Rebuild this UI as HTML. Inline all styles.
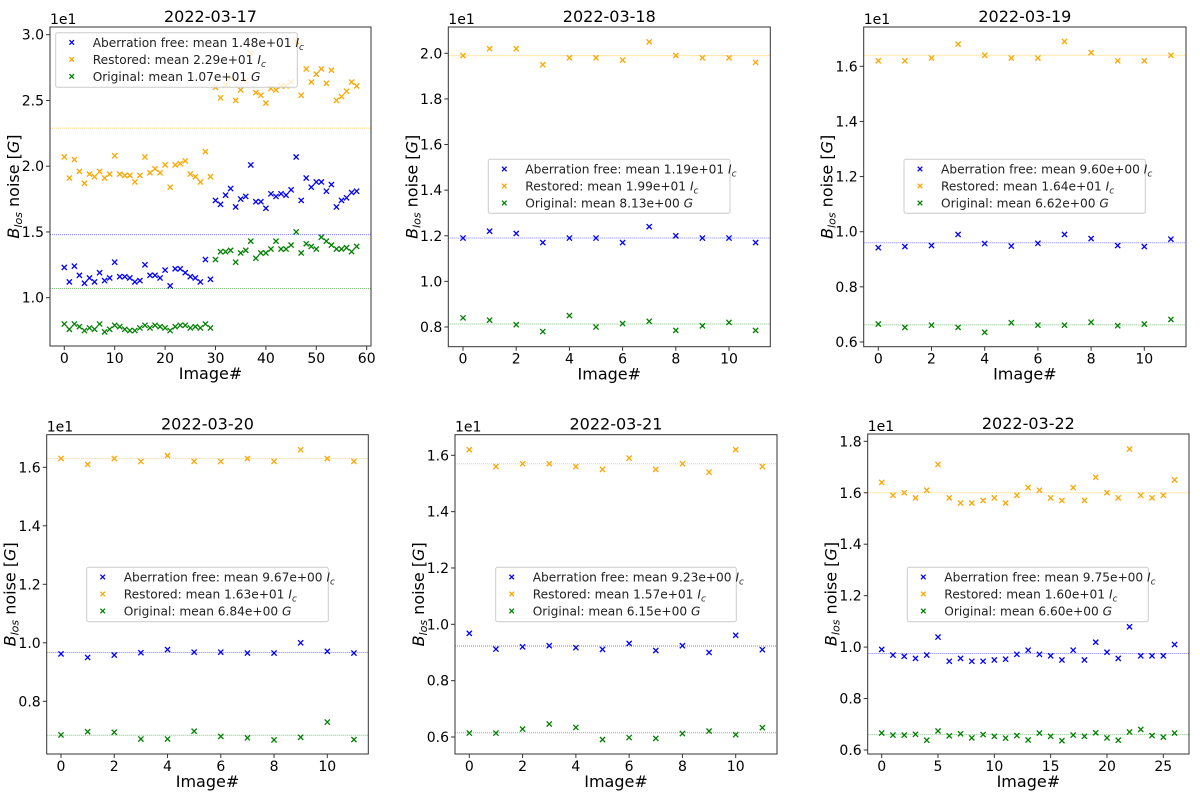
<!DOCTYPE html>
<html><head><meta charset="utf-8">
<style>
html,body{margin:0;padding:0;background:#fff;}
svg{display:block;font-family:"DejaVu Sans","Liberation Sans",sans-serif;}
</style></head>
<body>
<svg id="fig" width="1200" height="797" viewBox="0 0 1200 797" xmlns="http://www.w3.org/2000/svg"></svg>
<script>
// ---- data arrays (values in units of 1e1) ----
const titles = ["2022-03-17","2022-03-18","2022-03-19","2022-03-20","2022-03-21","2022-03-22"];
const p1Blue = [1.23,1.12,1.24,1.17,1.11,1.15,1.12,1.19,1.13,1.15,1.27,1.16,1.16,1.15,1.12,1.13,1.25,1.17,1.17,1.15,1.21,1.09,1.22,1.22,1.19,1.16,1.15,1.12,1.29,1.14,
 1.74,1.71,1.78,1.83,1.69,1.75,1.77,2.01,1.73,1.73,1.68,1.79,1.77,1.79,1.78,1.82,2.07,1.74,1.91,1.84,1.88,1.88,1.81,1.86,1.69,1.74,1.76,1.80,1.81];
const p1Orange = [2.07,1.91,2.05,1.96,1.87,1.94,1.92,1.96,1.91,1.94,2.08,1.94,1.93,1.93,1.88,1.93,2.07,1.95,1.98,1.95,2.01,1.84,2.01,2.02,2.04,1.94,1.92,1.88,2.11,1.92,
 2.60,2.52,2.62,2.67,2.50,2.58,2.65,2.86,2.56,2.54,2.48,2.59,2.58,2.61,2.61,2.64,2.95,2.54,2.74,2.64,2.70,2.74,2.63,2.73,2.50,2.53,2.57,2.64,2.61];
const p1Green = [0.80,0.76,0.80,0.78,0.75,0.77,0.76,0.80,0.74,0.76,0.79,0.78,0.76,0.75,0.75,0.77,0.79,0.77,0.79,0.78,0.77,0.75,0.78,0.79,0.79,0.77,0.78,0.77,0.80,0.77,
 1.29,1.35,1.35,1.36,1.27,1.34,1.36,1.43,1.30,1.34,1.34,1.37,1.43,1.37,1.37,1.40,1.50,1.34,1.41,1.39,1.37,1.46,1.43,1.40,1.37,1.37,1.38,1.35,1.39];
const p2Blue = [1.19,1.22,1.21,1.17,1.19,1.19,1.17,1.24,1.20,1.19,1.19,1.17];
const p2Orange = [1.99,2.02,2.02,1.95,1.98,1.98,1.97,2.05,1.99,1.98,1.98,1.96];
const p2Green = [0.84,0.83,0.81,0.78,0.85,0.80,0.815,0.825,0.785,0.805,0.82,0.785];
const p3Blue = [0.942,0.946,0.95,0.99,0.957,0.948,0.958,0.99,0.975,0.95,0.946,0.973];
const p3Orange = [1.62,1.62,1.63,1.68,1.64,1.63,1.63,1.69,1.65,1.62,1.62,1.64];
const p3Green = [0.665,0.653,0.661,0.653,0.635,0.67,0.661,0.661,0.672,0.659,0.665,0.682];
const p4Blue = [0.962,0.95,0.958,0.966,0.977,0.968,0.968,0.965,0.965,1.0,0.971,0.965];
const p4Orange = [1.63,1.61,1.63,1.62,1.64,1.62,1.62,1.63,1.62,1.66,1.63,1.62];
const p4Green = [0.685,0.696,0.694,0.671,0.671,0.698,0.68,0.675,0.668,0.677,0.729,0.669];
const p5Blue = [0.968,0.912,0.92,0.924,0.917,0.911,0.932,0.907,0.924,0.90,0.961,0.91];
const p5Orange = [1.62,1.56,1.57,1.57,1.56,1.55,1.59,1.55,1.57,1.54,1.62,1.56];
const p5Green = [0.614,0.614,0.628,0.646,0.634,0.591,0.598,0.595,0.612,0.621,0.608,0.633];
const p6Blue = [0.991,0.969,0.964,0.956,0.969,1.039,0.945,0.956,0.945,0.945,0.95,0.953,0.972,0.988,0.972,0.966,0.95,0.988,0.95,1.019,0.98,0.956,1.079,0.966,0.966,0.966,1.01];
const p6Orange = [1.64,1.59,1.60,1.58,1.61,1.71,1.58,1.56,1.56,1.57,1.58,1.56,1.59,1.62,1.61,1.58,1.57,1.62,1.57,1.66,1.60,1.58,1.77,1.59,1.58,1.59,1.65];
const p6Green = [0.666,0.658,0.658,0.661,0.638,0.674,0.655,0.663,0.647,0.660,0.653,0.646,0.656,0.639,0.666,0.653,0.636,0.658,0.653,0.667,0.647,0.638,0.670,0.680,0.656,0.650,0.666];
const meanBlue = [1.48,1.19,0.960,0.967,0.923,0.975];
const meanOrange = [2.29,1.99,1.64,1.63,1.57,1.60];
const meanGreen = [1.07,0.813,0.662,0.684,0.615,0.660];
const meanBlueLabel = ["1.48e+01","1.19e+01","9.60e+00","9.67e+00","9.23e+00","9.75e+00"];
const meanOrangeLabel = ["2.29e+01","1.99e+01","1.64e+01","1.63e+01","1.57e+01","1.60e+01"];
const meanGreenLabel = ["1.07e+01","8.13e+00","6.62e+00","6.84e+00","6.15e+00","6.60e+00"];
const yTicks = [[1.0,1.5,2.0,2.5,3.0],[0.8,1.0,1.2,1.4,1.6,1.8,2.0],[0.6,0.8,1.0,1.2,1.4,1.6],[0.8,1.0,1.2,1.4,1.6],[0.6,0.8,1.0,1.2,1.4,1.6],[0.6,0.8,1.0,1.2,1.4,1.6,1.8]];
const xTicks = [[0,10,20,30,40,50,60],[0,2,4,6,8,10],[0,2,4,6,8,10],[0,2,4,6,8,10],[0,2,4,6,8,10],[0,5,10,15,20,25]];

// ---- layout (pixel geometry, not data) ----
const layout = [
 {fx0:50,fx1:371,fy0:27,fy1:346,xa:0,xpa:64.3,xb:60,xpb:366.7,ya:1.0,ypa:297.7,yb:3.0,ypb:34.7,lg:[55.7,32.7,241.6,54.6]},
 {fx0:448.3,fx1:770.3,fy0:27,fy1:346.7,xa:0,xpa:463,xb:10,xpb:729,ya:0.8,ypa:327,yb:2.0,ypb:53.3,lg:[488.3,159.3,241.7,54]},
 {fx0:863.7,fx1:1186,fy0:27,fy1:346.7,xa:0,xpa:878.3,xb:10,xpb:1144.3,ya:0.6,ypa:342,yb:1.6,ypb:66.3,lg:[904,159.3,241.3,54]},
 {fx0:46.7,fx1:368.3,fy0:434.7,fy1:754,xa:0,xpa:61,xb:10,xpb:327.3,ya:0.8,ypa:701.3,yb:1.6,ypb:467.3,lg:[86.7,567.3,241.6,54.4]},
 {fx0:455,fx1:777,fy0:434.7,fy1:754,xa:0,xpa:469.3,xb:10,xpb:735.7,ya:0.6,ypa:737,yb:1.6,ypb:455.3,lg:[495.7,567.3,240.6,54.4]},
 {fx0:867.7,fx1:1189,fy0:434,fy1:754,xa:0,xpa:881.7,xb:25,xpb:1163.3,ya:0.6,ypa:750,yb:1.8,ypb:441.3,lg:[907.3,567.3,241,54.4]}
];
const series = [[p1Blue,p1Orange,p1Green],[p2Blue,p2Orange,p2Green],[p3Blue,p3Orange,p3Green],[p4Blue,p4Orange,p4Green],[p5Blue,p5Orange,p5Green],[p6Blue,p6Orange,p6Green]];
const colors = ["#0000ff","#ffa500","#008000"];
const NS = "http://www.w3.org/2000/svg";
const fig = document.getElementById('fig');
function mk(tag, attrs, parent){const e=document.createElementNS(NS,tag);for(const k in attrs)e.setAttribute(k,attrs[k]);(parent||fig).appendChild(e);return e;}
function marker(g,x,y,c,s){
  return mk('path',{d:`M${x-s},${y-s}L${x+s},${y+s}M${x-s},${y+s}L${x+s},${y-s}`,stroke:c,'stroke-width':1.3,fill:'none'},g);
}

layout.forEach((L,i)=>{
  const g = mk('g',{});
  
  
  const X = v => L.xpa + (v-L.xa)*(L.xpb-L.xpa)/(L.xb-L.xa);
  const Y = v => L.ypa + (v-L.ya)*(L.ypb-L.ypa)/(L.yb-L.ya);
  [meanBlue,meanOrange,meanGreen].forEach((m,k)=>{
    const ln = mk('line',{x1:L.fx0,x2:L.fx1,y1:Y(m[i]),y2:Y(m[i]),stroke:colors[k],'stroke-width':1,'stroke-dasharray':'1,1','stroke-opacity':0.5},g);
    
    
  });
  series[i].forEach((arr,k)=>{
    arr.forEach((v,j)=>{
      const p = marker(g,X(j),Y(v),colors[k],2.6);
      
      
    });
  });
  const fr = mk('rect',{x:L.fx0,y:L.fy0,width:L.fx1-L.fx0,height:L.fy1-L.fy0,fill:'none',stroke:'#333','stroke-width':1},g);
  
  
  yTicks[i].forEach(t=>{
    const y=Y(t);
    mk('line',{x1:L.fx0-4,x2:L.fx0,y1:y,y2:y,stroke:'#333','stroke-width':1},g);
    const tx = mk('text',{x:L.fx0-6,y:y+5,'text-anchor':'end','font-size':14,fill:'#000'},g);
    tx.textContent=t.toFixed(1);
    
    
  });
  xTicks[i].forEach(t=>{
    const x=X(t);
    mk('line',{x1:x,x2:x,y1:L.fy1,y2:L.fy1+4,stroke:'#333','stroke-width':1},g);
    const tx = mk('text',{x:x,y:L.fy1+17,'text-anchor':'middle','font-size':14,fill:'#000'},g);
    tx.textContent=t;
    
    
  });
  const off = mk('text',{x:L.fx0,y:L.fy0-3,'font-size':14,fill:'#000'},g);
  off.textContent='1e1';
  
  
  const ti = mk('text',{x:(L.fx0+L.fx1)/2,y:L.fy0-5,'text-anchor':'middle','font-size':16,fill:'#000'},g);
  ti.textContent=titles[i];
  
  
  const xl = mk('text',{x:(L.fx0+L.fx1)/2,y:L.fy1+33,'text-anchor':'middle','font-size':16,fill:'#000'},g);
  xl.textContent='Image#';
  
  
  const cy=(L.fy0+L.fy1)/2, lx=L.fx0-31;
  const yl = mk('text',{x:lx,y:cy,'text-anchor':'middle','font-size':16,fill:'#000',transform:`rotate(-90 ${lx} ${cy})`},g);
  yl.innerHTML='<tspan font-style="italic">B</tspan><tspan font-style="italic" font-size="11" dy="3">los</tspan><tspan dy="-3"> noise [</tspan><tspan font-style="italic">G</tspan><tspan>]</tspan>';
  
  
  const [lx0,ly0,lw,lh]=L.lg;
  const lgG = mk('g',{},g);
  
  
  mk('rect',{x:lx0,y:ly0,width:lw,height:lh,rx:2,fill:'#fff','fill-opacity':0.8,stroke:'#ccc','stroke-width':1},lgG);
  const labs=[['Aberration free: mean ',meanBlueLabel[i],'I','c'],['Restored: mean ',meanOrangeLabel[i],'I','c'],['Original: mean ',meanGreenLabel[i],'G','']];
  labs.forEach((lb,k)=>{
    const ry = ly0+9.7+k*17;
    const m = marker(lgG,lx0+16,ry,colors[k],2.3);
    
    
    const t = mk('text',{x:lx0+37,y:ry+4.5,'font-size':12.2,fill:'#222'},lgG);
    t.innerHTML = lb[0]+lb[1]+' <tspan font-style="italic">'+lb[2]+'</tspan>'+(lb[3]?'<tspan font-style="italic" font-size="9" dy="3">'+lb[3]+'</tspan>':'');
    
    
  });
});
</script>
</body></html>
